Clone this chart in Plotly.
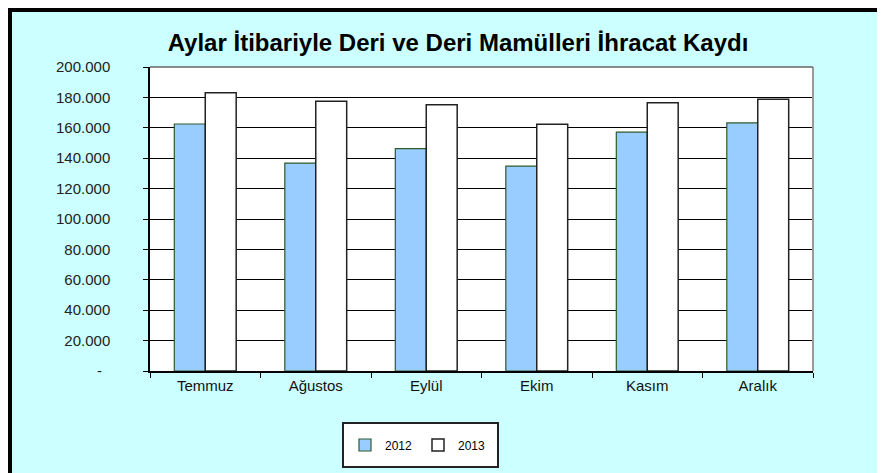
import plotly.graph_objects as go

months = ["Temmuz", "Ağustos", "Eylül", "Ekim", "Kasım", "Aralık"]
v2012 = [162500, 136800, 146300, 134800, 157100, 163200]
v2013 = [183000, 177500, 175200, 162300, 176500, 178800]
ytick_vals = [0, 20000, 40000, 60000, 80000, 100000, 120000, 140000, 160000, 180000, 200000]
ytick_text = ["-\u00a0\u00a0", "20.000", "40.000", "60.000", "80.000", "100.000",
              "120.000", "140.000", "160.000", "180.000", "200.000"]

FONT = "Liberation Sans, Arial, sans-serif"

# page body has an 8px default margin; work in window pixel coordinates
OFF = 8
WIN_W, WIN_H = 885, 473
W, H = WIN_W - OFF, WIN_H - OFF
PL, PR, PT, PB = 150, 813, 67, 371          # plot area in window px
L, R, T, B = PL - OFF, W - (PR - OFF), PT - OFF, H - (PB - OFF)
pw, ph = PR - PL, PB - PT

def px2x(px):
    return (px - PL) / pw

def py2y(py):
    return (PB - py) / ph

fig = go.Figure()
fig.add_trace(go.Bar(x=months, y=v2012, name="2012",
                     marker=dict(color="#99CCFF", line=dict(color="#2E5A2E", width=1.2))))
fig.add_trace(go.Bar(x=months, y=v2013, name="2013",
                     marker=dict(color="#FFFFFF", line=dict(color="#222222", width=1.5))))

shapes = [
    dict(type="rect", xref="paper", yref="paper", layer="below",
         x0=px2x(10), x1=px2x(920), y0=py2y(10), y1=py2y(520),
         fillcolor="#CCFFFF", line=dict(color="black", width=4)),
    dict(type="rect", xref="paper", yref="paper", layer="below",
         x0=0, x1=1, y0=0, y1=1, fillcolor="white", line=dict(width=0)),
    dict(type="rect", xref="paper", yref="paper", layer="below",
         x0=px2x(343), x1=px2x(498), y0=py2y(423), y1=py2y(467),
         fillcolor="white", line=dict(color="#222222", width=2)),
    dict(type="line", xref="paper", yref="paper", x0=1, x1=1, y0=0, y1=1,
         line=dict(color="#999999", width=2)),
    dict(type="line", xref="paper", yref="paper", x0=0, x1=1, y0=1, y1=1,
         line=dict(color="#666666", width=1.5)),
]

fig.update_layout(
    width=W, height=H,
    margin=dict(l=L, r=R, t=T, b=B, autoexpand=False),
    paper_bgcolor="white", plot_bgcolor="white",
    barmode="group", bargap=0.44, bargroupgap=0,
    font=dict(family=FONT, color="#111111"),
    title=dict(text="<b>Aylar İtibariyle Deri ve Deri Mamülleri İhracat Kaydı</b>",
               x=(458 - OFF) / W, xanchor="center", y=1 - (43 - OFF) / H, yanchor="middle",
               xref="container", yref="container",
               font=dict(size=24, family=FONT, color="black")),
    shapes=shapes,
    legend=dict(orientation="h", x=px2x(345), y=py2y(445), xanchor="left", yanchor="middle",
                bgcolor="rgba(0,0,0,0)", borderwidth=0,
                font=dict(size=12, family=FONT, color="black"),
                itemwidth=30, entrywidth=28),
    showlegend=True,
)
fig.update_yaxes(range=[0, 200000], tickvals=ytick_vals, ticktext=ytick_text,
                 showgrid=True, gridcolor="black", gridwidth=1.2,
                 showline=True, linecolor="black", linewidth=1.5,
                 ticks="outside", ticklen=5, tickcolor="black",
                 ticklabelstandoff=30, tickfont=dict(size=15, family=FONT, color="#222222"),
                 zeroline=False)
fig.update_xaxes(showline=True, linecolor="black", linewidth=1.5,
                 ticks="outside", ticklen=5, tickcolor="black", tickson="boundaries",
                 tickfont=dict(size=15, family=FONT, color="#111111"))

fig.write_html("out.html")
